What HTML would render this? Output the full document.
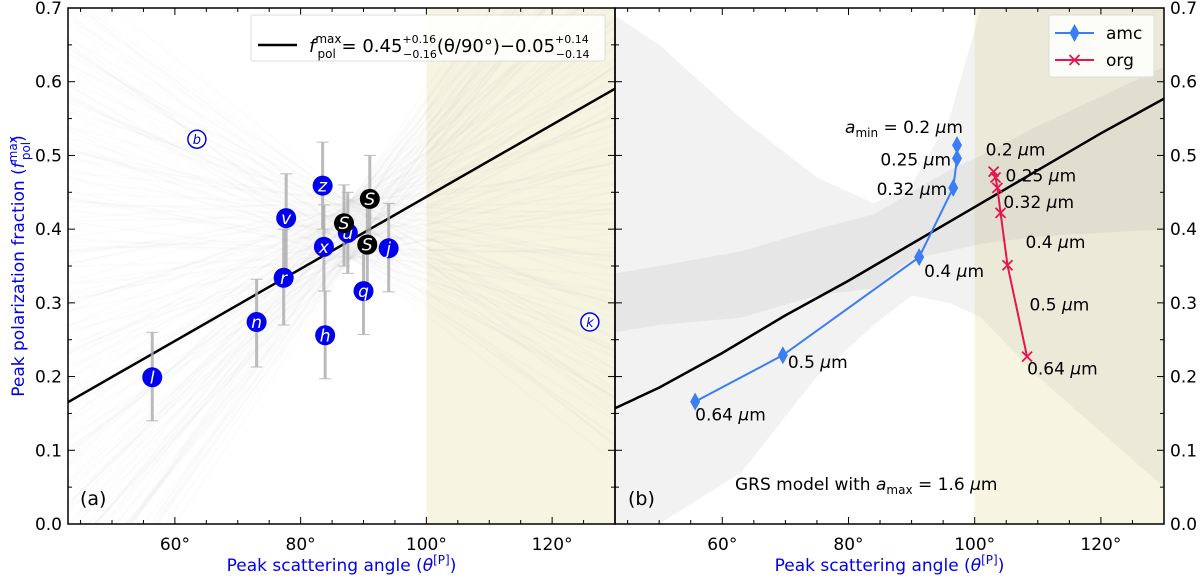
<!DOCTYPE html>
<html><head><meta charset="utf-8"><style>
html,body{margin:0;background:#fff;overflow:hidden;width:1200px;height:579px;}
svg{display:block;font-family:"DejaVu Sans","Liberation Sans",sans-serif;}
</style></head><body>
<svg id="c" width="1200" height="579" viewBox="0 0 1200 579"></svg>
<script>
// ---- data ----
const xTicks=[60,80,100,120];
const yTicks=[0.0,0.1,0.2,0.3,0.4,0.5,0.6,0.7];
const ptLabels=['l','n','r','v','z','x','h','u','S','S','S','j','q'];
const ptTheta=[56.4,73,77.3,77.7,83.5,83.7,83.9,87.5,86.9,91,90.6,94,90];
const ptVal=[0.199,0.274,0.334,0.415,0.459,0.376,0.256,0.395,0.408,0.441,0.379,0.374,0.316];
const ptErrLo=[0.14,0.213,0.27,0.33,0.40,0.316,0.197,0.34,0.35,0.38,0.32,0.315,0.257];
const ptErrHi=[0.26,0.332,0.40,0.475,0.518,0.433,0.316,0.45,0.46,0.50,0.44,0.435,0.38];
const ptBlack=[0,0,0,0,0,0,0,0,1,1,1,0,0];
const ringLabels=['b','k'];
const ringTheta=[63.5,126];
const ringVal=[0.522,0.274];
const fitSlope=0.44, fitInt=-0.045;
const amcSizes=['0.2','0.25','0.32','0.4','0.5','0.64'];
const amcTheta=[97.2,97.2,96.6,91.2,69.6,55.7];
const amcVal=[0.514,0.496,0.456,0.362,0.229,0.166];
const orgTheta=[103,103.3,103.6,104.1,105.2,108.3];
const orgVal=[0.478,0.47,0.456,0.422,0.351,0.227];
const modelTheta=[43,50,60,70,80,90,100,110,120,130];
const modelVal=[0.157,0.185,0.232,0.283,0.33,0.38,0.43,0.48,0.53,0.577];
const bandTheta=[43,50,63,75,84,90,96,101,110,130];
const lightHi=[0.69,0.65,0.55,0.47,0.435,0.46,0.55,0.70,0.70,0.70];
const lightLo=[0.0,0.0,0.07,0.2,0.27,0.31,0.3,0.28,0.2,0.05];
const darkHi=[0.34,0.35,0.37,0.40,0.42,0.45,0.48,0.5,0.54,0.62];
const darkLo=[0.26,0.27,0.28,0.31,0.32,0.36,0.37,0.38,0.39,0.40];

const NS='http://www.w3.org/2000/svg';
const svg=document.getElementById('c');
const XMIN=43,XMAX=130,Y0=524,YT=8;
function sy(v){return Y0-(Y0-YT)*v/0.7;}
function mkX(l,r){return t=>l+(r-l)*(t-XMIN)/(XMAX-XMIN);}
const xa=mkX(68,615), xb=mkX(615,1164);
function el(tag,attrs,parent){const e=document.createElementNS(NS,tag);for(const k in attrs)e.setAttribute(k,attrs[k]);(parent||svg).appendChild(e);return e;}
function txt(s,x,y,attrs,parent){const e=el('text',Object.assign({x:x,y:y,'font-size':17,fill:'#000'},attrs||{}),parent);e.textContent=s;return e;}

const defs=el('defs',{});
const ca=el('clipPath',{id:'ca'},defs);el('rect',{x:68,y:8,width:547,height:516},ca);
const cb=el('clipPath',{id:'cb'},defs);el('rect',{x:615,y:8,width:549,height:516},cb);

// ---- Panel A ----
const gA=el('g',{'clip-path':'url(#ca)'});


el('rect',{x:xa(100),y:8,width:xa(130)-xa(100),height:516,fill:'#f6f5e2'},gA);
// decorative fan, endpoints clipped to the axes box
for(let i=0;i<160;i++){
  const s=-0.007+0.02*i/159;
  const pv=0.4+0.04*Math.sin(i*1.7);
  const f=t=>pv+s*(t-88);
  let t1=43,t2=130;
  if(s!==0){
    const tz=88+(0-pv)/s, tt=88+(0.7-pv)/s;
    const lo=Math.min(tz,tt), hi=Math.max(tz,tt);
    t1=Math.max(t1,lo); t2=Math.min(t2,hi);
  }
  if(t2<=t1) continue;
  el('line',{x1:xa(t1),y1:sy(f(t1)),x2:xa(t2),y2:sy(f(t2)),stroke:'#bbb','stroke-width':2,'stroke-opacity':0.05},gA);
}
el('line',{x1:xa(43),y1:sy(fitSlope*43/90+fitInt),x2:xa(130),y2:sy(fitSlope*130/90+fitInt),stroke:'#000','stroke-width':2.5},gA);
for(let i=0;i<ptLabels.length;i++){
  const x=xa(ptTheta[i]);
  const eb=el('g',{},gA);
  
  
  el('line',{x1:x,y1:sy(ptErrLo[i]),x2:x,y2:sy(ptErrHi[i]),stroke:'#aaa','stroke-width':3,'stroke-opacity':0.8},eb);
  el('line',{x1:x-6,y1:sy(ptErrLo[i]),x2:x+6,y2:sy(ptErrLo[i]),stroke:'#bbb','stroke-width':1},eb);
  el('line',{x1:x-6,y1:sy(ptErrHi[i]),x2:x+6,y2:sy(ptErrHi[i]),stroke:'#bbb','stroke-width':1},eb);
}
for(let i=0;i<ptLabels.length;i++){
  const g=el('g',{},gA);
  
  
  const x=xa(ptTheta[i]),y=sy(ptVal[i]);
  el('circle',{cx:x,cy:y,r:10,fill:ptBlack[i]?'#000':'#0000ee'},g);
  txt(ptLabels[i],x,y+6,{'text-anchor':'middle','font-style':'italic',fill:'#fff','font-size':17},g);
}
for(let i=0;i<ringLabels.length;i++){
  const g=el('g',{},gA);
  
  
  const x=xa(ringTheta[i]),y=sy(ringVal[i]);
  el('circle',{cx:x,cy:y,r:9,fill:'#fff',stroke:'#0000ee','stroke-width':1.5},g);
  txt(ringLabels[i],x,y+5,{'text-anchor':'middle','font-style':'italic',fill:'#0000ee','font-size':13},g);
}

// ---- Panel B ----
const gB=el('g',{'clip-path':'url(#cb)'});


function band(hi,lo,fill,op,name){
  let d='';
  for(let i=0;i<bandTheta.length;i++)d+=(i?'L':'M')+xb(bandTheta[i])+','+sy(hi[i]);
  for(let i=bandTheta.length-1;i>=0;i--)d+='L'+xb(bandTheta[i])+','+sy(lo[i]);
  const p=el('path',{d:d+'Z',fill:fill,'fill-opacity':op},gB);
  
  
}
el('rect',{x:xb(100),y:8,width:xb(130)-xb(100),height:516,fill:'#f7f5e1'},gB);
band(lightHi,lightLo,'#a0a0a0',0.14,'model-outer-band');
band(darkHi,darkLo,'#909090',0.12,'model-inner-band');
let md='';
for(let i=0;i<modelTheta.length;i++)md+=(i?'L':'M')+xb(modelTheta[i])+','+sy(modelVal[i]);
const ml=el('path',{d:md,fill:'none',stroke:'#000','stroke-width':2.5},gB);


let ad='';for(let i=0;i<amcTheta.length;i++)ad+=(i?'L':'M')+xb(amcTheta[i])+','+sy(amcVal[i]);
const al=el('path',{d:ad,fill:'none',stroke:'#3a7df5','stroke-width':2},gB);


for(let i=0;i<amcTheta.length;i++){
  const x=xb(amcTheta[i]),y=sy(amcVal[i]);
  const m=el('path',{d:`M${x},${y-9}L${x+5},${y}L${x},${y+9}L${x-5},${y}Z`,fill:'#3a7df5'},gB);
  
  
}
let od='';for(let i=0;i<orgTheta.length;i++)od+=(i?'L':'M')+xb(orgTheta[i])+','+sy(orgVal[i]);
const ol=el('path',{d:od,fill:'none',stroke:'#e8144f','stroke-width':2},gB);


for(let i=0;i<orgTheta.length;i++){
  const x=xb(orgTheta[i]),y=sy(orgVal[i]);
  const m=el('path',{d:`M${x-5},${y-5}L${x+5},${y+5}M${x-5},${y+5}L${x+5},${y-5}`,stroke:'#e8144f','stroke-width':1.8},gB);
  
  
}
const amcLblPos=[[-112,-12,'start'],[-6,7,'end'],[-6,7,'end'],[5,20,'start'],[5,13,'start'],[0,19,'start']];
for(let i=0;i<amcTheta.length;i++){
  const x=xb(amcTheta[i])+amcLblPos[i][0],y=sy(amcVal[i])+amcLblPos[i][1];
  const t=el('text',{x:x,y:y,'font-size':17,'text-anchor':amcLblPos[i][2]});
  
  
  if(i===0){t.innerHTML='<tspan font-style="italic">a</tspan><tspan font-size="12" dy="4">min</tspan><tspan dy="-4"> = 0.2 </tspan><tspan font-style="italic">μ</tspan>m';}
  else t.innerHTML=amcSizes[i]+' <tspan font-style="italic">μ</tspan>m';
}
const orgLblPos=[[-8,-16],[10,4],[6,20],[25,35],[22,45],[0,18]];
for(let i=0;i<orgTheta.length;i++){
  const t=el('text',{x:xb(orgTheta[i])+orgLblPos[i][0],y:sy(orgVal[i])+orgLblPos[i][1],'font-size':17});
  
  
  t.innerHTML=amcSizes[i]+' <tspan font-style="italic">μ</tspan>m';
}
const grs=el('text',{x:735,y:490,'font-size':17});


grs.innerHTML='GRS model with <tspan font-style="italic">a</tspan><tspan font-size="12" dy="4">max</tspan><tspan dy="-4"> = 1.6 </tspan><tspan font-style="italic">μ</tspan>m';

// ---- axes ----
function axes(l,r,xf,name,rightLabels){
  const g=el('g',{});
  
  
  el('rect',{x:l,y:8,width:r-l,height:516,fill:'none',stroke:'#000','stroke-width':1.5},g);
  for(let t=45;t<=130;t+=5){const x=xf(t);const L=(t%20===0)?7:4;
    el('line',{x1:x,y1:Y0,x2:x,y2:Y0-L,stroke:'#000'},g);el('line',{x1:x,y1:8,x2:x,y2:8+L,stroke:'#000'},g);}
  xTicks.forEach(t=>{const tx=txt(t+'°',xf(t),550,{'text-anchor':'middle'},g);
    });
  for(let v=0;v<=0.70001;v+=0.05){const y=sy(v);const L=(Math.round(v*100)%10===0)?7:4;
    el('line',{x1:l,y1:y,x2:l+L,y2:y,stroke:'#000'},g);el('line',{x1:r,y1:y,x2:r-L,y2:y,stroke:'#000'},g);}
  yTicks.forEach(v=>{const tx=rightLabels?txt(v.toFixed(1),r+6,sy(v)+6,{'text-anchor':'start'},g):txt(v.toFixed(1),l-6,sy(v)+6,{'text-anchor':'end'},g);
    });
  const xt=el('text',{x:(l+r)/2,y:571,'font-size':17,fill:'#0000ee','text-anchor':'middle'},g);
  
  xt.innerHTML='Peak scattering angle (<tspan font-style="italic">θ</tspan><tspan font-size="12" dy="-7">[P]</tspan><tspan dy="7">)</tspan>';
}
axes(68,615,xa,'panel-a-axes',false);
axes(615,1164,xb,'panel-b-axes',true);
const yl=el('text',{x:0,y:0,'font-size':17,fill:'#0000ee','text-anchor':'middle',transform:'translate(24,266) rotate(-90)'});

yl.innerHTML='Peak polarization fraction (<tspan font-style="italic">f</tspan><tspan font-size="12" dy="-7">max</tspan><tspan font-size="12" dx="-24" dy="13">pol</tspan><tspan dy="-6">)</tspan>';
const pa=txt('(a)',80,505,{'font-size':19});
const pb=txt('(b)',628,505,{'font-size':19});

// legends
const lg=el('g',{});

el('rect',{x:251,y:15,width:354,height:46,fill:'#fff','fill-opacity':0.85,stroke:'#ddd',rx:2},lg);
el('line',{x1:258,y1:45,x2:297,y2:45,stroke:'#000','stroke-width':2.5},lg);
const lt=el('text',{x:309,y:52,'font-size':18},lg);
lt.innerHTML='<tspan font-style="italic">f</tspan><tspan font-size="12" dy="-9">max</tspan><tspan font-size="12" dx="-24" dy="15">pol</tspan><tspan dy="-6"> = 0.45</tspan><tspan font-size="11" dy="-9">+0.16</tspan><tspan font-size="11" dx="-33" dy="15">−0.16</tspan><tspan dy="-6">(θ/90°)−0.05</tspan><tspan font-size="11" dy="-9">+0.14</tspan><tspan font-size="11" dx="-33" dy="15">−0.14</tspan>';
const lg2=el('g',{});

el('rect',{x:1049,y:15,width:105,height:62,fill:'#fff','fill-opacity':0.85,stroke:'#ddd',rx:2},lg2);
el('line',{x1:1055,y1:33,x2:1094,y2:33,stroke:'#3a7df5','stroke-width':2},lg2);
el('path',{d:'M1074.5,24L1079.5,33L1074.5,42L1069.5,33Z',fill:'#3a7df5'},lg2);
txt('amc',1106,39,{},lg2);
el('line',{x1:1055,y1:60,x2:1094,y2:60,stroke:'#e8144f','stroke-width':2},lg2);
el('path',{d:'M1069.5,55L1079.5,65M1069.5,65L1079.5,55',stroke:'#e8144f','stroke-width':1.8},lg2);
txt('org',1106,66,{},lg2);
</script>
</body></html>
